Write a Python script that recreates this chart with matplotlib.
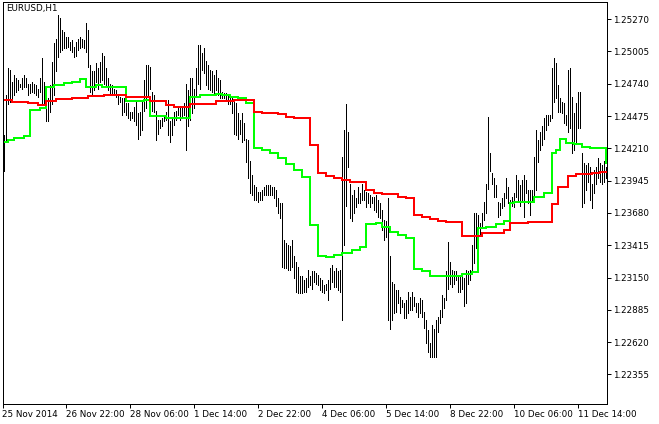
import numpy as np
import matplotlib
matplotlib.use("Agg")
import matplotlib.pyplot as plt

# ---- hourly bars (high / low) ----
highs = [
    1.2432, 1.2465, 1.2487, 1.2485, 1.2475, 1.2481, 1.2479, 1.2477, 1.2474, 1.2479,
    1.2481, 1.2479, 1.2474, 1.2474, 1.2475, 1.2474, 1.2473, 1.2470, 1.2479, 1.2495,
    1.2475, 1.2470, 1.2462, 1.2473, 1.2492, 1.2507, 1.2511, 1.2530, 1.2528, 1.2518,
    1.2516, 1.2512, 1.2512, 1.2508, 1.2510, 1.2504, 1.2508, 1.2511, 1.2512, 1.2511,
    1.2510, 1.2524, 1.2518, 1.2489, 1.2484, 1.2484, 1.2491, 1.2487, 1.2492, 1.2499,
    1.2497, 1.2487, 1.2479, 1.2474, 1.2473, 1.2470, 1.2469, 1.2465, 1.2463, 1.2462,
    1.2462, 1.2458, 1.2458, 1.2451, 1.2451, 1.2455, 1.2461, 1.2450, 1.2451, 1.2461,
    1.2477, 1.2489, 1.2489, 1.2488, 1.2467, 1.2465, 1.2452, 1.2444, 1.2444, 1.2446,
    1.2448, 1.2451, 1.2461, 1.2443, 1.2447, 1.2451, 1.2452, 1.2455, 1.2454, 1.2455,
    1.2458, 1.2474, 1.2469, 1.2479, 1.2479, 1.2470, 1.2487, 1.2506, 1.2506, 1.2499,
    1.2503, 1.2493, 1.2489, 1.2485, 1.2484, 1.2481, 1.2485, 1.2479, 1.2477, 1.2467,
    1.2466, 1.2466, 1.2465, 1.2463, 1.2462, 1.2461, 1.2458, 1.2450, 1.2444, 1.2450,
    1.2442, 1.2429, 1.2428, 1.2411, 1.2399, 1.2391, 1.2389, 1.2385, 1.2385, 1.2387,
    1.2389, 1.2391, 1.2391, 1.2391, 1.2389, 1.2389, 1.2387, 1.2380, 1.2376, 1.2376,
    1.2346, 1.2343, 1.2342, 1.2341, 1.2346, 1.2333, 1.2328, 1.2324, 1.2316, 1.2316,
    1.2313, 1.2315, 1.2321, 1.2316, 1.2320, 1.2320, 1.2319, 1.2317, 1.2315, 1.2313,
    1.2309, 1.2310, 1.2313, 1.2323, 1.2325, 1.2320, 1.2323, 1.2320, 1.2321, 1.2414,
    1.2436, 1.2457, 1.2434, 1.2392, 1.2383, 1.2387, 1.2380, 1.2389, 1.2384, 1.2392,
    1.2387, 1.2385, 1.2384, 1.2383, 1.2381, 1.2381, 1.2383, 1.2379, 1.2376, 1.2370,
    1.2362, 1.2361, 1.2380, 1.2333, 1.2311, 1.2310, 1.2305, 1.2305, 1.2299, 1.2297,
    1.2294, 1.2297, 1.2303, 1.2299, 1.2303, 1.2299, 1.2294, 1.2294, 1.2298, 1.2297,
    1.2287, 1.2280, 1.2272, 1.2261, 1.2276, 1.2273, 1.2280, 1.2283, 1.2288, 1.2301,
    1.2298, 1.2320, 1.2344, 1.2328, 1.2321, 1.2320, 1.2320, 1.2316, 1.2316, 1.2316,
    1.2315, 1.2321, 1.2320, 1.2321, 1.2342, 1.2368, 1.2368, 1.2366, 1.2360, 1.2368,
    1.2377, 1.2392, 1.2447, 1.2417, 1.2401, 1.2397, 1.2391, 1.2377, 1.2376, 1.2380,
    1.2384, 1.2397, 1.2389, 1.2379, 1.2381, 1.2384, 1.2399, 1.2395, 1.2391, 1.2395,
    1.2399, 1.2395, 1.2387, 1.2387, 1.2387, 1.2414, 1.2436, 1.2428, 1.2434, 1.2439,
    1.2446, 1.2448, 1.2448, 1.2448, 1.2487, 1.2495, 1.2491, 1.2473, 1.2462, 1.2459,
    1.2458, 1.2448, 1.2485, 1.2487, 1.2463, 1.2450, 1.2458, 1.2467, 1.2467, 1.2417,
    1.2409, 1.2407, 1.2409, 1.2406, 1.2392, 1.2403, 1.2406, 1.2413, 1.2409, 1.2407,
    1.2411, 1.2406,
]
lows = [
    1.2402, 1.2428, 1.2457, 1.2459, 1.2459, 1.2465, 1.2467, 1.2469, 1.2471, 1.2470,
    1.2471, 1.2471, 1.2465, 1.2466, 1.2467, 1.2466, 1.2465, 1.2463, 1.2467, 1.2457,
    1.2457, 1.2443, 1.2443, 1.2451, 1.2457, 1.2465, 1.2484, 1.2496, 1.2500, 1.2502,
    1.2503, 1.2503, 1.2504, 1.2502, 1.2500, 1.2496, 1.2497, 1.2502, 1.2503, 1.2504,
    1.2503, 1.2500, 1.2488, 1.2467, 1.2465, 1.2469, 1.2475, 1.2470, 1.2475, 1.2477,
    1.2474, 1.2471, 1.2469, 1.2466, 1.2466, 1.2465, 1.2463, 1.2457, 1.2459, 1.2448,
    1.2451, 1.2448, 1.2446, 1.2444, 1.2446, 1.2443, 1.2440, 1.2429, 1.2432, 1.2436,
    1.2452, 1.2454, 1.2463, 1.2470, 1.2452, 1.2451, 1.2428, 1.2433, 1.2438, 1.2439,
    1.2443, 1.2444, 1.2432, 1.2426, 1.2432, 1.2440, 1.2444, 1.2448, 1.2444, 1.2447,
    1.2448, 1.2420, 1.2439, 1.2444, 1.2450, 1.2454, 1.2463, 1.2474, 1.2470, 1.2485,
    1.2483, 1.2473, 1.2470, 1.2469, 1.2467, 1.2466, 1.2469, 1.2465, 1.2462, 1.2462,
    1.2462, 1.2461, 1.2457, 1.2457, 1.2450, 1.2433, 1.2432, 1.2429, 1.2433, 1.2426,
    1.2428, 1.2410, 1.2397, 1.2384, 1.2383, 1.2379, 1.2379, 1.2377, 1.2379, 1.2379,
    1.2383, 1.2383, 1.2383, 1.2383, 1.2383, 1.2380, 1.2374, 1.2368, 1.2364, 1.2324,
    1.2323, 1.2323, 1.2321, 1.2321, 1.2324, 1.2315, 1.2303, 1.2302, 1.2302, 1.2302,
    1.2303, 1.2303, 1.2307, 1.2309, 1.2306, 1.2311, 1.2310, 1.2309, 1.2305, 1.2303,
    1.2302, 1.2305, 1.2297, 1.2306, 1.2311, 1.2307, 1.2307, 1.2305, 1.2303, 1.2280,
    1.2342, 1.2374, 1.2406, 1.2364, 1.2361, 1.2368, 1.2373, 1.2376, 1.2376, 1.2379,
    1.2379, 1.2373, 1.2376, 1.2373, 1.2376, 1.2370, 1.2369, 1.2365, 1.2364, 1.2354,
    1.2346, 1.2348, 1.2280, 1.2273, 1.2280, 1.2286, 1.2287, 1.2294, 1.2286, 1.2291,
    1.2282, 1.2282, 1.2286, 1.2288, 1.2288, 1.2292, 1.2287, 1.2283, 1.2286, 1.2283,
    1.2274, 1.2261, 1.2254, 1.2250, 1.2250, 1.2250, 1.2250, 1.2270, 1.2278, 1.2283,
    1.2290, 1.2297, 1.2306, 1.2310, 1.2307, 1.2310, 1.2313, 1.2303, 1.2303, 1.2306,
    1.2292, 1.2294, 1.2310, 1.2313, 1.2321, 1.2327, 1.2339, 1.2340, 1.2350, 1.2356,
    1.2362, 1.2368, 1.2388, 1.2402, 1.2392, 1.2381, 1.2381, 1.2365, 1.2366, 1.2372,
    1.2374, 1.2380, 1.2376, 1.2368, 1.2374, 1.2373, 1.2381, 1.2379, 1.2374, 1.2379,
    1.2365, 1.2384, 1.2376, 1.2366, 1.2379, 1.2381, 1.2387, 1.2410, 1.2420, 1.2424,
    1.2429, 1.2436, 1.2440, 1.2443, 1.2446, 1.2459, 1.2462, 1.2451, 1.2451, 1.2450,
    1.2442, 1.2440, 1.2434, 1.2438, 1.2417, 1.2420, 1.2425, 1.2438, 1.2438, 1.2373,
    1.2376, 1.2387, 1.2393, 1.2379, 1.2372, 1.2384, 1.2392, 1.2397, 1.2393, 1.2392,
    1.2393, 1.2397,
]

# ---- step indicators: bar index where each level starts, and the level ----
green_start = [0, 2, 5, 10, 13, 18, 21, 25, 30, 34, 38, 41, 46, 49, 61, 70, 73, 81, 93, 98,
               106, 109, 113, 117, 121, 125, 129, 133, 137, 141, 145, 149, 153, 157, 161,
               165, 169, 174, 178, 181, 186, 189, 193, 197, 201, 205, 209, 213, 229, 234,
               237, 241, 246, 250, 253, 255, 265, 270, 274, 276, 278, 281, 285, 289, 293, 301]
green_level = [1.24262, 1.24278, 1.24294, 1.24311, 1.24524, 1.24540, 1.24713, 1.24729, 1.24745,
               1.24754, 1.24778, 1.24713, 1.24729, 1.24713, 1.24598, 1.24606, 1.24475, 1.24458,
               1.24631, 1.24647, 1.24655, 1.24647, 1.24631, 1.24622, 1.24581, 1.24212, 1.24196,
               1.24171, 1.24130, 1.24081, 1.24032, 1.23975, 1.23581, 1.23327, 1.23319, 1.23335,
               1.23351, 1.23376, 1.23401, 1.23589, 1.23597, 1.23565, 1.23524, 1.23499, 1.23474,
               1.23220, 1.23204, 1.23163, 1.23179, 1.23196, 1.23556, 1.23565, 1.23589, 1.23614,
               1.23761, 1.23770, 1.23811, 1.23843, 1.24171, 1.24196, 1.24286, 1.24253, 1.24245,
               1.24221, 1.24212, 1.24089]

red_start = [0, 4, 12, 17, 21, 26, 34, 42, 50, 61, 73, 81, 85, 93, 106, 115, 125, 129, 137, 141,
             145, 153, 157, 161, 165, 169, 173, 181, 185, 189, 197, 201, 205, 209, 213, 217,
             221, 229, 239, 250, 253, 262, 274, 277, 282, 286, 294, 298]
red_level = [1.24606, 1.24590, 1.24581, 1.24565, 1.24598, 1.24614, 1.24622, 1.24639, 1.24647,
             1.24631, 1.24598, 1.24565, 1.24549, 1.24573, 1.24598, 1.24606, 1.24508, 1.24499,
             1.24491, 1.24467, 1.24458, 1.24237, 1.24007, 1.23983, 1.23966, 1.23950, 1.23934,
             1.23868, 1.23843, 1.23835, 1.23811, 1.23802, 1.23663, 1.23647, 1.23630, 1.23614,
             1.23606, 1.23491, 1.23515, 1.23540, 1.23597, 1.23606, 1.23753, 1.23893, 1.23983,
             1.23999, 1.24007, 1.24016]

price_ticks = [1.25270, 1.25005, 1.24740, 1.24475, 1.24210, 1.23945,
               1.23680, 1.23415, 1.23150, 1.22885, 1.22620, 1.22355]
date_labels = ["25 Nov 2014", "26 Nov 22:00", "28 Nov 06:00", "1 Dec 14:00", "2 Dec 22:00",
               "4 Dec 06:00", "5 Dec 14:00", "8 Dec 22:00", "10 Dec 06:00", "11 Dec 14:00"]
bars_per_label = 32


def expand(starts, levels, n):
    idx = np.searchsorted(starts, np.arange(n), side="right") - 1
    return np.asarray(levels)[idx]


plt.rcParams["font.family"] = ["DejaVu Sans"]
fs = 6.3

fig = plt.figure(figsize=(6.59, 4.24), dpi=100)
ax = fig.add_axes([2.5 / 659, 20 / 424, 604.5 / 659, 402 / 424])

n = len(highs)
x = np.arange(n)
ax.vlines(x, lows, highs, colors="black", linewidth=0.5, antialiased=False)

green = expand(green_start, green_level, n)
red = expand(red_start, red_level, n)
xs = np.append(x, n - 0.25)
ax.plot(xs, np.append(green, green[-1]), drawstyle="steps-post", color="#00ff00",
        lw=1.25, antialiased=False)
ax.plot(xs, np.append(red, red[-1]), drawstyle="steps-post", color="#ff0000",
        lw=1.25, antialiased=False)

ax.set_xlim(-0.5, n - 0.25)
ax.set_ylim(1.22113, 1.25410)

# price scale on the right
ax.yaxis.tick_right()
ax.set_yticks(price_ticks)
ax.set_yticklabels([f"{p:.5f}" for p in price_ticks])
ax.tick_params(axis="y", direction="out", length=2.9, width=0.72, pad=1.4,
               labelsize=fs, colors="black")

# time scale
tick_pos = [-0.5] + [bars_per_label * k - 1 for k in range(1, len(date_labels))]
ax.set_xticks(tick_pos)
ax.set_xticklabels(date_labels)
for lab in ax.get_xticklabels():
    lab.set_horizontalalignment("left")
ax.tick_params(axis="x", direction="out", length=2.9, width=0.72, pad=1.2,
               labelsize=fs, colors="black")

for sp in ax.spines.values():
    sp.set_linewidth(0.72)
    sp.set_color("black")

ax.text(0.006, 0.996, "EURUSD,H1", transform=ax.transAxes, ha="left", va="top",
        fontsize=fs, color="black")

fig.savefig("out.png", dpi=100, facecolor="white")
